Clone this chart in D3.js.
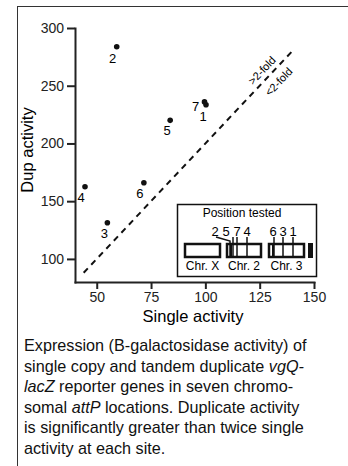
<!DOCTYPE html>
<html>
<head>
<meta charset="utf-8">
<script src="https://cdn.jsdelivr.net/npm/d3@7"></script>
<style>
  body { margin: 0; background: #fff; }
  svg { display: block; font-family: "Liberation Sans", Arial, sans-serif; }
  .axis path, .axis line { stroke: #222; stroke-width: 2; }
  .axis text { font-size: 14px; fill: #222; }
</style>
</head>
<body>
<script>
//site numbers and their activities
var sites = ["1", "2", "3", "4", "5", "6", "7"];
var singleVals = [100.3, 59.2, 54.9, 44.6, 83.8, 71.7, 99.6];
var dupVals = [233.5, 283.8, 131.3, 162.5, 220, 166, 236];

//tick values
var xTicks = [50, 75, 100, 125, 150];
var yTicks = [100, 150, 200, 250, 300];

//2-fold line runs over these single values
var foldX = [44, 140];

//inset: chromosome arms and tested positions
var chromNames = ["Chr. X", "Chr. 2", "Chr. 3"];
var chr2Sites = ["2", "5", "7", "4"];
var chr3Sites = ["6", "3", "1"];

var caption = [
    [["Expression (B-galactosidase activity) of", false]],
    [["single copy and tandem duplicate ", false], ["vgQ-", true]],
    [["lacZ", true], [" reporter genes in seven chromo-", false]],
    [["somal ", false], ["attP", true], [" locations. Duplicate activity", false]],
    [["is significantly greater than twice single", false]],
    [["activity at each site.", false]]
];

(function(){
    var width = 348, height = 466;

    var svg = d3.select("body").append("svg")
        .attr("width", width)
        .attr("height", height);

    //outer frame
    svg.append("rect")
        .attr("x", 17.5).attr("y", 6.5)
        .attr("width", 340).attr("height", 470)
        .attr("fill", "none")
        .attr("stroke", "#333");

    var x = d3.scaleLinear().domain([40, 150]).range([75, 314]);
    var y = d3.scaleLinear().domain([80, 300]).range([282, 28]);

    //axes
    svg.append("g")
        .attr("class", "axis")
        .attr("transform", "translate(" + x(40) + ",0)")
        .call(d3.axisLeft(y).tickValues(yTicks).tickSize(8).tickSizeOuter(0).tickPadding(3));

    svg.append("g")
        .attr("class", "axis")
        .attr("transform", "translate(0," + y(80) + ")")
        .call(d3.axisBottom(x).tickValues(xTicks).tickSize(7).tickSizeOuter(0).tickPadding(3));

    svg.selectAll(".axis .domain").attr("stroke-linecap", "square");

    //axis titles
    svg.append("text")
        .attr("transform", "translate(33,150) rotate(-90)")
        .attr("text-anchor", "middle")
        .style("font-size", "16.5px")
        .text("Dup activity");

    svg.append("text")
        .attr("x", 193).attr("y", 322)
        .attr("text-anchor", "middle")
        .style("font-size", "16.5px")
        .text("Single activity");

    //2-fold line
    var line = d3.line()
        .x(function(d){ return x(d); })
        .y(function(d){ return y(2 * d); });

    svg.append("path")
        .datum(foldX)
        .attr("d", line)
        .attr("fill", "none")
        .attr("stroke", "#111")
        .attr("stroke-width", 2)
        .attr("stroke-dasharray", "6,5");

    //fold labels along the line
    var angle = Math.atan2(y(2 * foldX[1]) - y(2 * foldX[0]), x(foldX[1]) - x(foldX[0])) * 180 / Math.PI;
    [[">2-fold", 129, -5], ["<2-fold", 130, 15]].forEach(function(f){
        svg.append("text")
            .attr("transform", "translate(" + x(f[1]) + "," + y(2 * f[1]) + ") rotate(" + angle + ") translate(0," + f[2] + ")")
            .attr("text-anchor", "middle")
            .style("font-size", "11px")
            .text(f[0]);
    });

    //points
    var pts = sites.map(function(s, i){
        return {site: s, single: singleVals[i], dup: dupVals[i]};
    });

    svg.selectAll(".dot")
        .data(pts)
        .enter().append("circle")
        .attr("class", "dot")
        .attr("cx", function(d){ return x(d.single); })
        .attr("cy", function(d){ return y(d.dup); })
        .attr("r", 2.8)
        .attr("fill", "#111");

    //label offsets per site (px, relative to dot)
    var labelOffset = {"1": [-3, 16], "2": [-4, 16], "3": [-3, 15], "4": [-4, 15],
                       "5": [-3, 15], "6": [-4, 15], "7": [-9, 9]};

    svg.selectAll(".lab")
        .data(pts)
        .enter().append("text")
        .attr("class", "lab")
        .attr("x", function(d){ return x(d.single) + labelOffset[d.site][0]; })
        .attr("y", function(d){ return y(d.dup) + labelOffset[d.site][1]; })
        .attr("text-anchor", "middle")
        .style("font-size", "13px")
        .text(function(d){ return d.site; });

    //inset
    var inset = svg.append("g");
    inset.append("rect")
        .attr("x", 177.5).attr("y", 204.5)
        .attr("width", 139).attr("height", 72)
        .attr("fill", "#fff")
        .attr("stroke", "#111")
        .attr("stroke-width", 1.5);

    inset.append("text")
        .attr("x", 242).attr("y", 217)
        .attr("text-anchor", "middle")
        .style("font-size", "12px")
        .text("Position tested");

    var chromX = [[185, 220], [227, 261], [269, 304]];
    var cTop = 244, cBot = 257;

    chromX.forEach(function(c, i){
        inset.append("rect")
            .attr("x", c[0]).attr("y", cTop)
            .attr("width", c[1] - c[0]).attr("height", cBot - cTop)
            .attr("fill", "none")
            .attr("stroke", "#111")
            .attr("stroke-width", 2.5);
        inset.append("text")
            .attr("x", (c[0] + c[1]) / 2).attr("y", 270)
            .attr("text-anchor", "middle")
            .style("font-size", "12px")
            .text(chromNames[i]);
    });
    //centromere ends of the autosomes
    [227, 269].forEach(function(cx){
        inset.append("line")
            .attr("x1", cx + 4).attr("x2", cx + 4)
            .attr("y1", cTop).attr("y2", cBot)
            .attr("stroke", "#111").attr("stroke-width", 2);
    });
    //chr 4
    inset.append("rect")
        .attr("x", 308).attr("y", cTop - 1)
        .attr("width", 5).attr("height", cBot - cTop + 2)
        .attr("fill", "#111");

    //site markers
    var chr2LabelX = [215, 226, 237, 247], chr2LineX = [230, 233, 237, 247];
    var chr3LabelX = [273, 283, 293], chr3LineX = [274, 283, 293];

    chr2Sites.forEach(function(s, i){
        inset.append("text")
            .attr("x", chr2LabelX[i]).attr("y", 236)
            .attr("text-anchor", "middle")
            .style("font-size", "13px")
            .text(s);
        if (i == 0){
            inset.append("path")
                .attr("d", "M" + (chr2LabelX[i] + 1) + ",237 L" + chr2LineX[i] + ",241 L" + chr2LineX[i] + "," + cBot)
                .attr("fill", "none").attr("stroke", "#111").attr("stroke-width", 1.5);
        } else {
            inset.append("line")
                .attr("x1", chr2LineX[i]).attr("x2", chr2LineX[i])
                .attr("y1", 237).attr("y2", cBot)
                .attr("stroke", "#111").attr("stroke-width", 1.5);
        }
    });
    chr3Sites.forEach(function(s, i){
        inset.append("text")
            .attr("x", chr3LabelX[i]).attr("y", 236)
            .attr("text-anchor", "middle")
            .style("font-size", "13px")
            .text(s);
        inset.append("line")
            .attr("x1", chr3LineX[i]).attr("x2", chr3LineX[i])
            .attr("y1", 237).attr("y2", cBot)
            .attr("stroke", "#111").attr("stroke-width", 1.5);
    });

    //caption
    var cap = svg.append("g").style("font-size", "16.2px").attr("fill", "#111");
    caption.forEach(function(parts, i){
        var t = cap.append("text").attr("x", 24).attr("y", 351 + i * 20.6);
        parts.forEach(function(p){
            t.append("tspan")
                .style("font-style", p[1] ? "italic" : "normal")
                .text(p[0]);
        });
    });
})();
</script>
</body>
</html>
